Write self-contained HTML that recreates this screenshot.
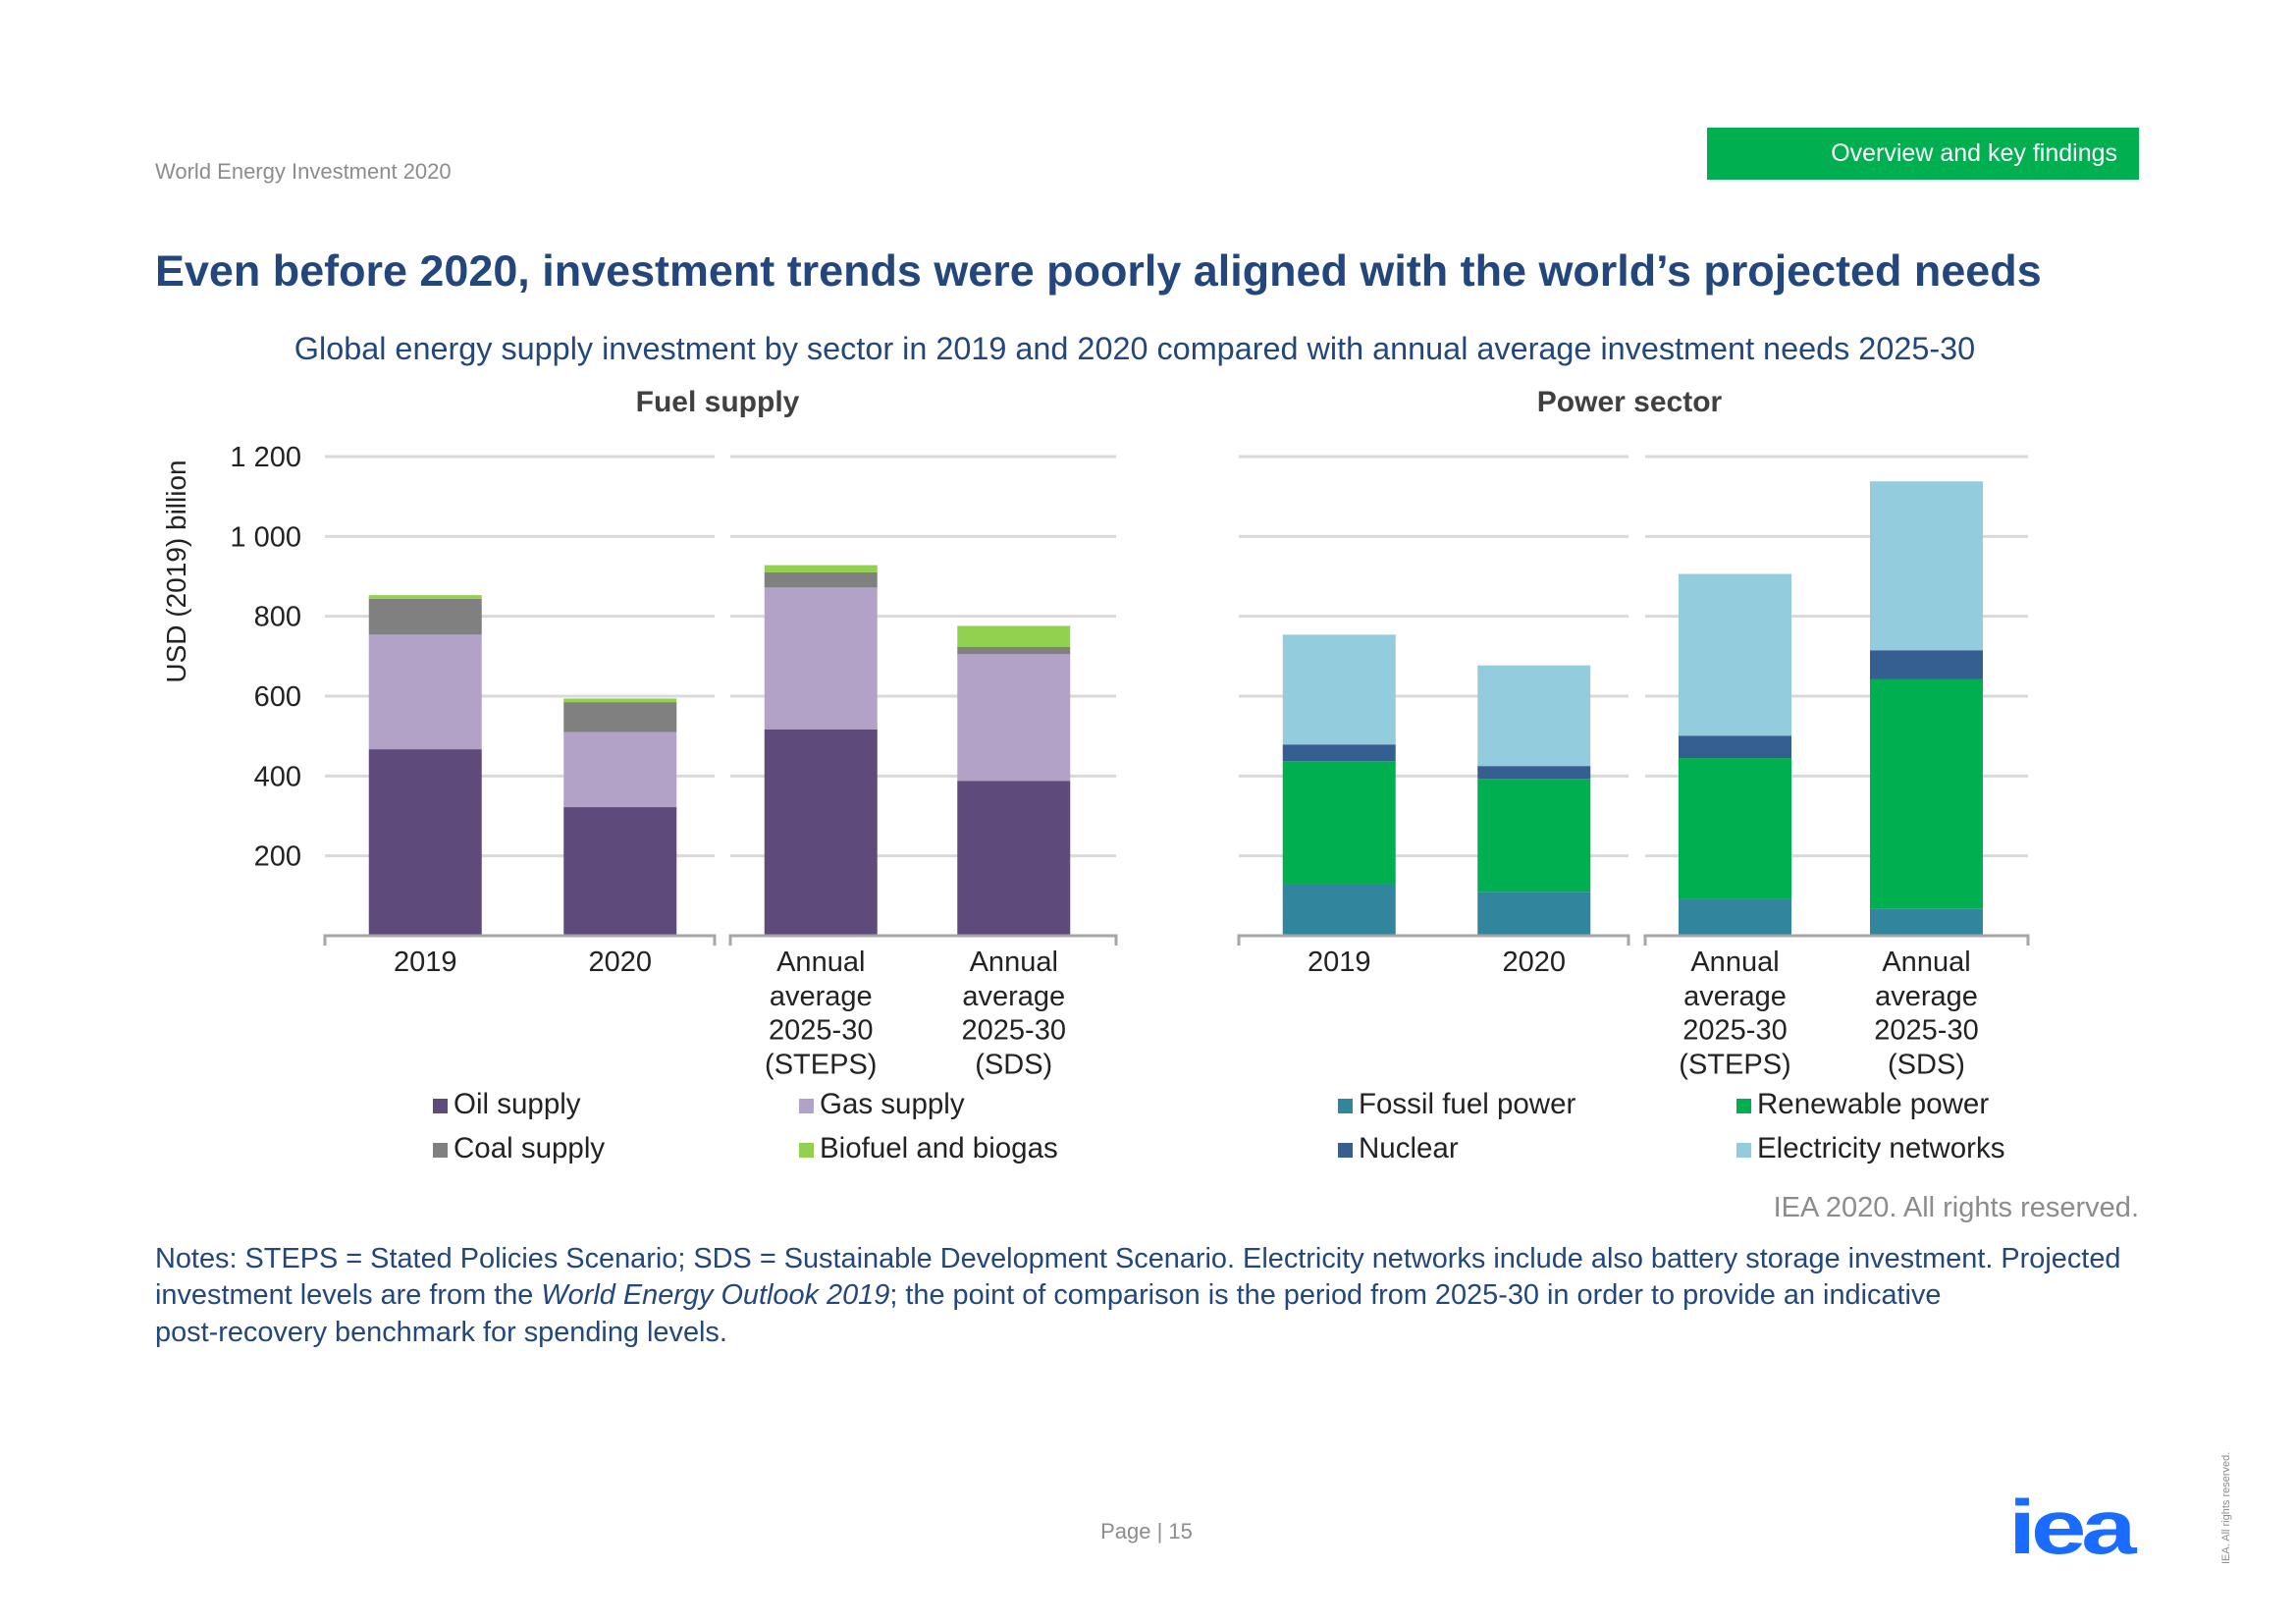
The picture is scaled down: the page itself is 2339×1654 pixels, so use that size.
<!DOCTYPE html>
<html><head><meta charset="utf-8"><style>
body{margin:0;width:2339px;height:1654px;background:#fff;font-family:"Liberation Sans",sans-serif;position:relative;overflow:hidden}
.a{position:absolute;white-space:nowrap}
</style></head><body>
<div class="a" style="left:158px;top:162px;font-size:22px;color:#8c8c8c">World Energy Investment 2020</div>
<div class="a" style="left:1739px;top:130px;width:440px;height:53px;background:#00b050;color:#fff;font-size:25px;line-height:53px;text-align:right;box-sizing:border-box;padding-right:22px">Overview and key findings</div>
<div class="a" style="left:158px;top:250px;font-size:44.9px;font-weight:bold;color:#23477c">Even before 2020, investment trends were poorly aligned with the world’s projected needs</div>
<div class="a" style="left:0;width:2312px;text-align:center;top:337px;font-size:32.4px;color:#23477c">Global energy supply investment by sector in 2019 and 2020 compared with annual average investment needs 2025-30</div>
<svg class="a" style="left:0;top:0" width="2339" height="1654" id="chart"></svg>
<div class="a" style="right:160px;top:1214px;font-size:29px;color:#8c8c8c">IEA 2020. All rights reserved.</div>
<div class="a" style="left:158px;top:1264px;font-size:28.9px;line-height:37.3px;color:#23477c">Notes: STEPS = Stated Policies Scenario; SDS = Sustainable Development Scenario. Electricity networks include also battery storage investment. Projected<br>investment levels are from the <i>World Energy Outlook 2019</i>; the point of comparison is the period from 2025-30 in order to provide an indicative<br>post-recovery benchmark for spending levels.</div>
<div class="a" style="left:1085px;width:166px;text-align:center;top:1547px;font-size:22px;color:#8c8c8c">Page | 15</div>
<div class="a" style="left:2046px;top:1510px;font-size:78px;font-weight:bold;color:#1a6bff;letter-spacing:-4px;transform:scaleX(1.3);transform-origin:0 0">iea</div>
<div class="a" style="left:2262px;top:1593px;font-size:11px;color:#8c8c8c;transform-origin:0 0;transform:rotate(-90deg)">IEA. All rights reserved.</div>
<script>
const cats=[["2019"],["2020"],["Annual","average","2025-30","(STEPS)"],["Annual","average","2025-30","(SDS)"]];
const yTicks=[200,400,600,800,1000,1200];
const oil=[467,322,517,388];
const gas=[287,188,355,317];
const coal=[90,75,38,18];
const bio=[9,9,18,53];
const fossil=[129,110,92,68];
const renew=[308,283,353,575];
const nuclear=[42,32,56,72];
const networks=[275,252,405,423];
const NS="http://www.w3.org/2000/svg";
const svg=document.getElementById('chart');
const y0=953,y1200=465;
const y=v=>y0-(v/1200)*(y0-y1200);
function el(t,a,p){const e=document.createElementNS(NS,t);for(const k in a)e.setAttribute(k,a[k]);(p||svg).appendChild(e);return e;}
function txt(x,yy,s,a){const e=el('text',Object.assign({x:x,y:yy,'font-family':'Liberation Sans, sans-serif'},a));e.textContent=s;return e;}
function panel(name,segs,x0,x1,x2,x3,title,tx,off){
  const g=el('g',{});
  
  
  yTicks.forEach(t=>{
    const l1=el('line',{x1:x0,x2:x1,y1:y(t),y2:y(t),stroke:'#d9d9d9','stroke-width':3},g);
    
    
    const l2=el('line',{x1:x2,x2:x3,y1:y(t),y2:y(t),stroke:'#d9d9d9','stroke-width':3},g);
    
    
  });
  const t=txt(tx,419,title,{'font-size':30,'font-weight':'bold',fill:'#404040','text-anchor':'middle'});
  
  
  const w1=(x1-x0)/2,w2=(x3-x2)/2;
  const centers=[x0+w1*0.5+3,x0+w1*1.5+3,x2+w2*0.5-6+off,x2+w2*1.5-6+off];
  centers.forEach((c,i)=>{
    let acc=0;
    segs.forEach(s=>{
      const v=s.data[i];
      const r=el('rect',{x:c-57.5,width:115,y:y(acc+v),height:y(acc)-y(acc+v),fill:s.color},g);
      
      
      acc+=v;
    });
    cats[i].forEach((line,j)=>{
      const ct=txt(c,989+j*34.8,line,{'font-size':29,fill:'#222','text-anchor':'middle'});
      
      
    });
  });
  [[x0,x1],[x2,x3]].forEach(([a,b])=>{
    const ax=el('path',{d:`M${a},${y0+10}V${y0}H${b}V${y0+10}`,stroke:'#a6a6a6','stroke-width':3,fill:'none'},g);
    
    
  });
}
panel('fuel-supply',[{name:'oil',data:oil,color:'#5f4b7b'},{name:'gas',data:gas,color:'#b2a2c8'},{name:'coal',data:coal,color:'#808080'},{name:'biofuel',data:bio,color:'#92d050'}],331,728,744,1137,'Fuel supply',731,0);
panel('power-sector',[{name:'fossil',data:fossil,color:'#31859c'},{name:'renewable',data:renew,color:'#00b050'},{name:'nuclear',data:nuclear,color:'#355f91'},{name:'networks',data:networks,color:'#93cddd'}],1262,1659,1676,2066,'Power sector',1660,0);
yTicks.forEach(t=>{
  const e=txt(307,y(t)+10,t>=1000?(Math.floor(t/1000)+' '+String(t%1000).padStart(3,'0')):String(t),{'font-size':29,fill:'#222','text-anchor':'end'});
  
  
});
const yt=txt(0,0,'USD (2019) billion',{'font-size':28,fill:'#222','text-anchor':'middle',transform:'translate(189,582) rotate(-90)'});


const legend=[['Oil supply','#5f4b7b',441,1134],['Gas supply','#b2a2c8',814,1134],['Coal supply','#808080',441,1179],['Biofuel and biogas','#92d050',814,1179],['Fossil fuel power','#31859c',1363,1134],['Renewable power','#00b050',1769,1134],['Nuclear','#355f91',1363,1179],['Electricity networks','#93cddd',1769,1179]];
legend.forEach(([n,c,lx,ly])=>{
  const g=el('g',{});
  
  
  el('rect',{x:lx,y:ly-15,width:15,height:15,fill:c},g);
  const t=txt(lx+21,ly,n,{'font-size':29.5,fill:'#222'});g.appendChild(t);
});
</script>
</body></html>
